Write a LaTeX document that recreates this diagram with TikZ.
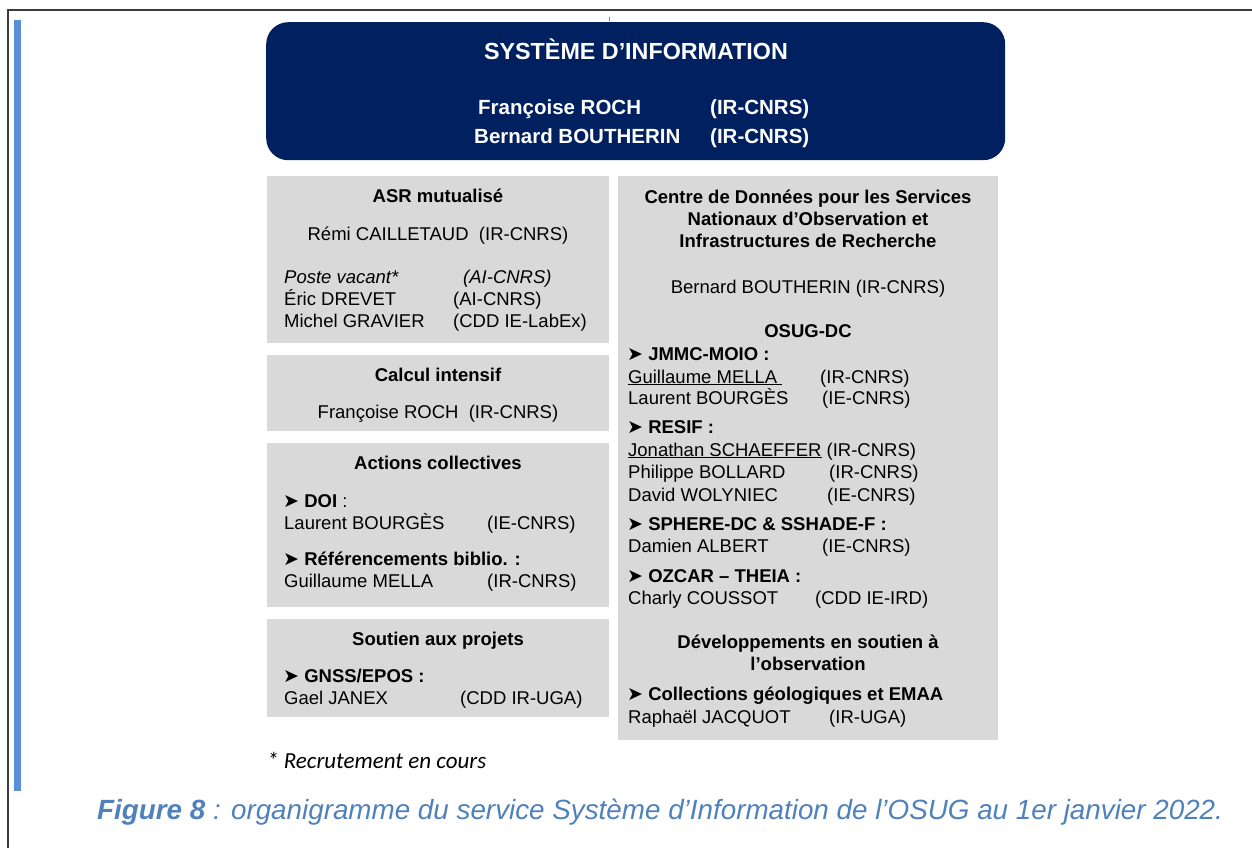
\documentclass[tikz,border=0pt]{standalone}
\usepackage{fontspec}
\setmainfont{Liberation Sans}
\newfontfamily\dejavu{DejaVu Sans}
\newfontfamily\carlito{Carlito}
\definecolor{navy}{RGB}{0,32,96}
\definecolor{boxgrey}{RGB}{217,217,217}
\definecolor{barblue}{RGB}{88,143,216}
\definecolor{capblue}{RGB}{79,129,189}
\definecolor{framecol}{RGB}{60,60,60}
\newcommand\arrb{{\dejavu\fontsize{19}{19}\selectfont ➤}\ }
\tikzset{
  gbox/.style={fill=boxgrey, draw=none, anchor=north west, inner sep=0pt},
  txt/.style={font=\fontsize{18.5}{22}\selectfont, anchor=base west, inner sep=0pt},
  ctxt/.style={font=\fontsize{18.5}{22}\selectfont, anchor=base, inner sep=0pt},
  ttl/.style={font=\fontsize{18.5}{22}\selectfont\bfseries, anchor=base, inner sep=0pt, align=center},
  hdr/.style={font=\fontsize{20.5}{24}\selectfont\bfseries, text=white, anchor=base west, inner sep=0pt},
}
\begin{document}
\begin{tikzpicture}[x=1pt,y=-1pt]
\useasboundingbox (0,0) rectangle (1252,848);
\fill[white] (0,0) rectangle (1252,848);
\draw[framecol, line width=1.6pt] (8,850) -- (8,10) -- (1254,10);
\fill[barblue] (14,20) rectangle (21,791);
\draw[gray, line width=0.8pt] (609,17) -- (609,21);
% header
\node[fill=navy, rounded corners=22pt, anchor=north west, minimum width=739pt, minimum height=138pt, inner sep=0pt] (head) at (266,22) {};
\node[font=\fontsize{23.3}{26}\selectfont\bfseries, text=white, anchor=base, inner sep=0pt] (htitle) at (636,60) {SYSTÈME D’INFORMATION};
\node[hdr] (h1n) at (478,114) {Françoise ROCH};
\node[hdr] (h1s) at (710,114) {(IR-CNRS)};
\node[hdr] (h2n) at (474,143) {Bernard BOUTHERIN};
\node[hdr] (h2s) at (710,143) {(IR-CNRS)};
% left boxes
\node[gbox, minimum width=342pt, minimum height=167pt] (asr) at (267,176) {};
\node[gbox, minimum width=342pt, minimum height=76pt] (calc) at (267,355) {};
\node[gbox, minimum width=342pt, minimum height=164pt] (act) at (267,443) {};
\node[gbox, minimum width=342pt, minimum height=98pt] (sout) at (267,619) {};
% right box
\node[gbox, minimum width=380pt, minimum height=564pt] (cdn) at (618,176) {};
% ASR
\node[ttl] (asrt) at (438,202) {ASR mutualisé};
\node[ctxt] (asr1) at (438,240) {Rémi CAILLETAUD\ \ (IR-CNRS)};
\node[txt] (asr2n) at (284,283) {\itshape Poste vacant*};
\node[txt] (asr2s) at (463,283) {\itshape (AI-CNRS)};
\node[txt] (asr3n) at (284,305) {Éric DREVET};
\node[txt] (asr3s) at (453,305) {(AI-CNRS)};
\node[txt] (asr4n) at (284,327) {Michel GRAVIER};
\node[txt] (asr4s) at (453,327) {(CDD IE-LabEx)};
% Calcul
\node[ttl] (calt) at (438,381) {Calcul intensif};
\node[ctxt] (cal1) at (438,418) {Françoise ROCH\ \ (IR-CNRS)};
% Actions
\node[ttl] (actt) at (438,469) {Actions collectives};
\node[txt] (act1) at (283,507) {\arrb\textbf{DOI} :};
\node[txt] (act2n) at (284,529) {Laurent BOURGÈS};
\node[txt] (act2s) at (487,529) {(IE-CNRS)};
\node[txt] (act3) at (283,565) {\arrb\textbf{Référencements biblio. :}};
\node[txt] (act4n) at (284,587) {Guillaume MELLA};
\node[txt] (act4s) at (487,587) {(IR-CNRS)};
% Soutien
\node[ttl] (soutt) at (438,645) {Soutien aux projets};
\node[txt] (sou1) at (283,682) {\arrb\textbf{GNSS/EPOS :}};
\node[txt] (sou2n) at (284,704) {Gael JANEX};
\node[txt] (sou2s) at (460,704) {(CDD IR-UGA)};
% Right
\node[ttl] (cdnt) at (808,247) {Centre de Données pour les Services\\Nationaux d’Observation et\\Infrastructures de Recherche};
\node[ctxt] (cdn1) at (808,293) {Bernard BOUTHERIN (IR-CNRS)};
\node[ttl] (osug) at (808,337) {OSUG-DC};
\node[txt] (r1) at (627,360) {\arrb\textbf{JMMC-MOIO :}};
\node[txt] (r2n) at (628,383) {\underline{Guillaume MELLA\ }};
\node[txt] (r2s) at (820,383) {(IR-CNRS)};
\node[txt] (r3n) at (628,404) {Laurent BOURGÈS};
\node[txt] (r3s) at (822,404) {(IE-CNRS)};
\node[txt] (r4) at (627,433) {\arrb\textbf{RESIF :}};
\node[txt] (r5n) at (628,456) {\underline{Jonathan SCHAEFFER} (IR-CNRS)};
\node[txt] (r6n) at (628,478) {Philippe BOLLARD};
\node[txt] (r6s) at (829,478) {(IR-CNRS)};
\node[txt] (r7n) at (628,501) {David WOLYNIEC};
\node[txt] (r7s) at (827,501) {(IE-CNRS)};
\node[txt] (r8) at (627,530) {\arrb\textbf{SPHERE-DC \& SSHADE-F :}};
\node[txt] (r9n) at (628,552) {Damien ALBERT};
\node[txt] (r9s) at (822,552) {(IE-CNRS)};
\node[txt] (r10) at (627,582) {\arrb\textbf{OZCAR – THEIA :}};
\node[txt] (r11n) at (628,604) {Charly COUSSOT};
\node[txt] (r11s) at (815,604) {(CDD IE-IRD)};
\node[ttl] (dev) at (808,670) {Développements en soutien à\\l’observation};
\node[txt] (r12) at (627,700) {\arrb\textbf{Collections géologiques et EMAA}};
\node[txt] (r13n) at (628,723) {Raphaël JACQUOT};
\node[txt] (r13s) at (829,723) {(IR-UGA)};
% footnote and caption
\node[font=\carlito\itshape\fontsize{23}{26}\selectfont, anchor=base west, inner sep=0pt] (foot) at (267,768) {* Recrutement en cours};
\node[font=\itshape\fontsize{27.8}{30}\selectfont, text=capblue, anchor=base west, inner sep=0pt] (cap) at (97,819) {\textbf{Figure 8} : organigramme du service Système d’Information de l’OSUG au 1er janvier 2022.};
\end{tikzpicture}
\end{document}
